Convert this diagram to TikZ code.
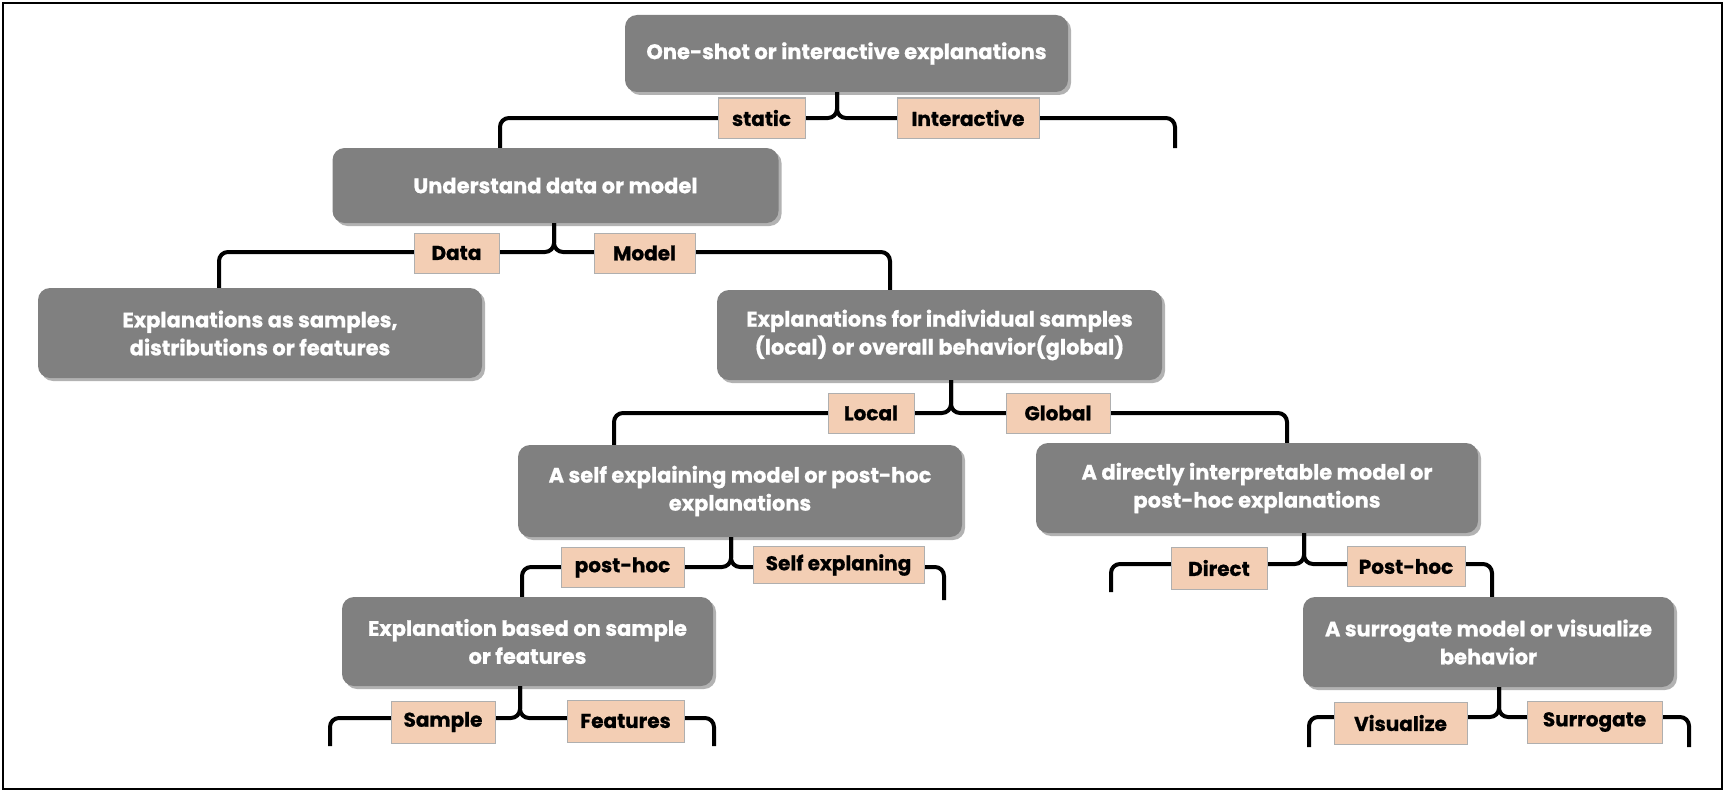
\documentclass[tikz,border=0pt]{standalone}
\usepackage{fontspec}
\setmainfont{Poppins}[BoldFeatures={FakeBold=0.8}]
\usetikzlibrary{shadows}
\definecolor{boxgray}{RGB}{128,128,128}
\definecolor{peach}{RGB}{243,206,180}
\definecolor{labline}{RGB}{175,175,175}
\begin{document}
\begin{tikzpicture}[x=1pt,y=-1pt,
  gbox/.style={fill=boxgray, rounded corners=12pt, text=white, align=center, inner sep=0pt,
    font=\fontsize{21}{28}\selectfont\bfseries,
    drop shadow={shadow xshift=3pt, shadow yshift=-3pt, opacity=0.3, fill=black}},
  lab/.style={fill=peach, draw=labline, line width=1pt, inner sep=0pt, minimum height=40pt,
    font=\fontsize{20}{24}\selectfont\bfseries, text=black},
  bline/.style={draw=black, line width=4pt, rounded corners=9pt}]
\useasboundingbox (0,0) rectangle (1725,792);
\draw[line width=2.5pt] (3,3) rectangle (1722,789);

% boxes
\node[gbox, minimum width=443pt, minimum height=77pt] (t) at (846.5,53.5) {One-shot or interactive explanations};
\node[gbox, minimum width=446pt, minimum height=75pt] (u) at (555.5,185.5) {Understand data or model};
\node[gbox, minimum width=444pt, minimum height=90pt] (a) at (260,333) {Explanations as samples,\\distributions or features};
\node[gbox, minimum width=445pt, minimum height=90pt] (b) at (939.5,335) {Explanations for individual samples\\(local) or overall behavior(global)};
\node[gbox, minimum width=444pt, minimum height=92pt] (c) at (740,491) {A self explaining model or post-hoc\\explanations};
\node[gbox, minimum width=442pt, minimum height=90pt] (d) at (1257,488) {A directly interpretable model or\\post-hoc explanations};
\node[gbox, minimum width=371pt, minimum height=89pt] (e) at (527.5,641.5) {Explanation based on sample\\or features};
\node[gbox, minimum width=371pt, minimum height=90pt] (f) at (1488.5,642) {A surrogate model or visualize\\behavior};

% brace coordinates
\coordinate (b0) at (837,118);  \coordinate (b0l) at (500,118);  \coordinate (b0r) at (1175,148);
\coordinate (b1) at (554,252);  \coordinate (b1l) at (219,252);  \coordinate (b1r) at (890,252);
\coordinate (b2) at (951,413);  \coordinate (b2l) at (614,413);  \coordinate (b2r) at (1287,413);
\coordinate (b3) at (731,567);  \coordinate (b3l) at (522,567);  \coordinate (b3r) at (944,600);
\coordinate (b4) at (1304,564); \coordinate (b4l) at (1111,592); \coordinate (b4r) at (1492,564);
\coordinate (b5) at (520,718);  \coordinate (b5l) at (330,746);  \coordinate (b5r) at (714,746);
\coordinate (b6) at (1499,717); \coordinate (b6l) at (1309,747); \coordinate (b6r) at (1689,747);

% braces
\draw[bline] (b0l |- u.north) |- (b0) -- (b0 |- t.south);
\draw[bline] (b0r) |- (b0) -- (b0 |- t.south);
\draw[bline] (b1l |- a.north) |- (b1) -- (b1 |- u.south);
\draw[bline] (b1r |- b.north) |- (b1) -- (b1 |- u.south);
\draw[bline] (b2l |- c.north) |- (b2) -- (b2 |- b.south);
\draw[bline] (b2r |- d.north) |- (b2) -- (b2 |- b.south);
\draw[bline] (b3l |- e.north) |- (b3) -- (b3 |- c.south);
\draw[bline] (b3r) |- (b3) -- (b3 |- c.south);
\draw[bline] (b4l) |- (b4) -- (b4 |- d.south);
\draw[bline] (b4r |- f.north) |- (b4) -- (b4 |- d.south);
\draw[bline] (b5l) |- (b5) -- (b5 |- e.south);
\draw[bline] (b5r) |- (b5) -- (b5 |- e.south);
\draw[bline] (b6l) |- (b6) -- (b6 |- f.south);
\draw[bline] (b6r) |- (b6) -- (b6 |- f.south);

% labels
\node[lab, minimum width=87pt]  (l1) at (761.5,118) {static};
\node[lab, minimum width=142pt] (l2) at (968,118) {Interactive};
\node[lab, minimum width=85pt]  (l3) at (456.5,253) {Data};
\node[lab, minimum width=101pt] (l4) at (644.5,253) {Model};
\node[lab, minimum width=86pt]  (l5) at (871,413) {Local};
\node[lab, minimum width=104pt] (l6) at (1058,413) {Global};
\node[lab, minimum width=123pt] (l7) at (622.5,567.5) {post-hoc};
\node[lab, minimum width=171pt, minimum height=37pt] (l8) at (838.5,565) {Self explaning};
\node[lab, minimum width=96pt, minimum height=42pt]  (l9) at (1219,568) {Direct};
\node[lab, minimum width=118pt] (l10) at (1406,566.5) {Post-hoc};
\node[lab, minimum width=104pt, minimum height=42pt] (l11) at (443,722) {Sample};
\node[lab, minimum width=117pt, minimum height=42pt] (l12) at (625.5,721) {Features};
\node[lab, minimum width=133pt, minimum height=42pt] (l13) at (1400.5,723) {Visualize};
\node[lab, minimum width=135pt, minimum height=42pt] (l14) at (1594.5,722) {Surrogate};
\end{tikzpicture}
\end{document}
